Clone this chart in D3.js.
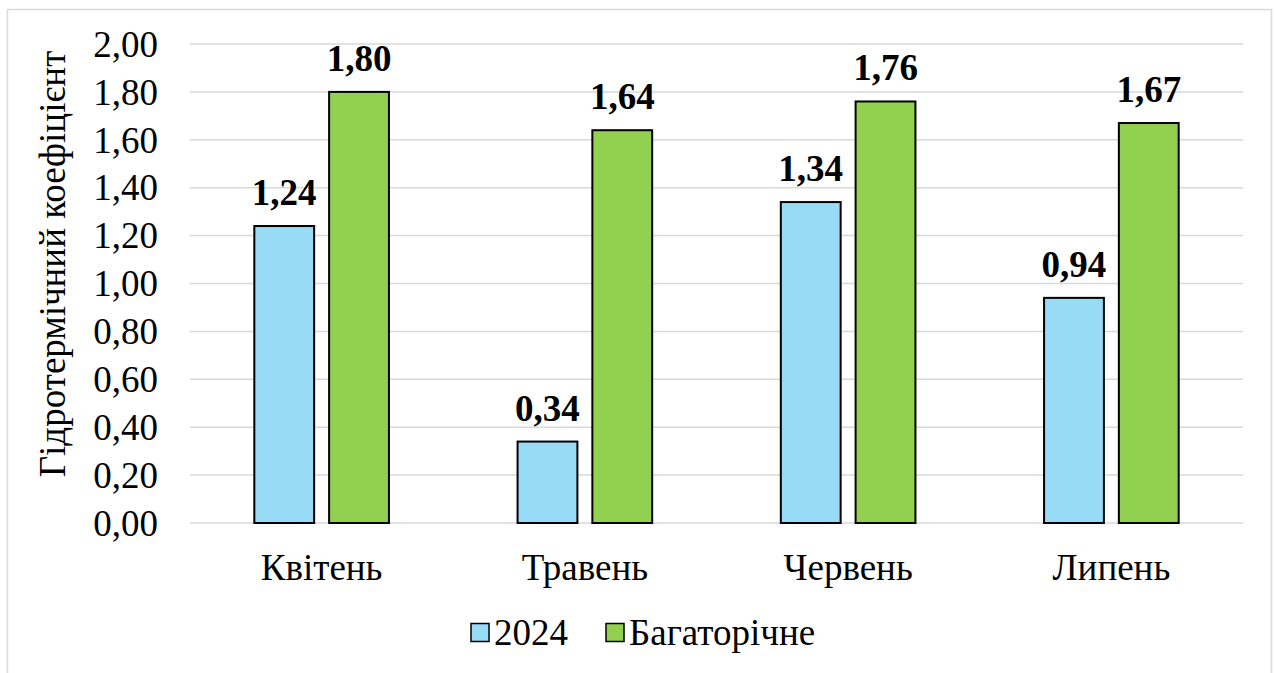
<!DOCTYPE html>
<html>
<head>
<meta charset="utf-8">
<script src="https://cdn.jsdelivr.net/npm/d3@7"></script>
<style>
  body { margin: 0; background: #fff; }
  svg text { font-family: "Liberation Serif", "Times New Roman", serif; }
</style>
</head>
<body>
<svg id="chart" width="1275" height="673"></svg>
<script>
// months and the two series
var months = ["Квітень", "Травень", "Червень", "Липень"];
var seriesNames = ["2024", "Багаторічне"];
var values2024 = [1.24, 0.34, 1.34, 0.94];
var valuesLongTerm = [1.80, 1.64, 1.76, 1.67];
var yTicks = [0, 0.2, 0.4, 0.6, 0.8, 1.0, 1.2, 1.4, 1.6, 1.8, 2.0];
var colors = ["#97dbf7", "#92d050"];
var FONT = "Liberation Serif, Times New Roman, serif";
var FS = 37;

var svg = d3.select("#chart");
var fmt = function(v){ return d3.format(".2f")(v).replace(".", ","); };

// outer frame
svg.append("rect").attr("x", 7.5).attr("y", 9.5).attr("width", 1264).attr("height", 700)
	.attr("fill", "none").attr("stroke", "#d9d9d9").attr("stroke-width", 1.5);

var x = d3.scaleBand().domain(months).range([190, 1243]);
var y = d3.scaleLinear().domain([0, 2]).range([523, 44]);
var inner = d3.scaleBand().domain(seriesNames).range([0, x.bandwidth()]).paddingInner(0.2).paddingOuter(0.86);

// grid lines
svg.append("g").selectAll("line").data(yTicks).enter().append("line")
	.attr("x1", 190).attr("x2", 1243)
	.attr("y1", function(d){ return y(d); }).attr("y2", function(d){ return y(d); })
	.attr("stroke", "#d9d9d9").attr("stroke-width", 1.5);

// y axis labels
var yAxis = d3.axisLeft(y).tickValues(yTicks).tickFormat(fmt).tickSize(0).tickPadding(0);
var gy = svg.append("g").attr("transform", "translate(158,0)").call(yAxis)
	.attr("font-family", FONT).attr("font-size", FS);
gy.select(".domain").remove();
gy.selectAll("text").attr("fill", "#000").attr("dy", "0.33em");

// x axis labels
var xAxis = d3.axisBottom(x).tickSize(0).tickPadding(0);
var gx = svg.append("g").attr("transform", "translate(0,580)").call(xAxis)
	.attr("font-family", FONT).attr("font-size", FS);
gx.select(".domain").remove();
gx.selectAll("text").attr("fill", "#000").attr("dy", 0);

// bars
var series = [values2024, valuesLongTerm];
series.forEach(function(vals, si){
	var g = svg.append("g");
	g.selectAll("rect").data(vals).enter().append("rect")
		.attr("x", function(d, i){ return x(months[i]) + inner(seriesNames[si]); })
		.attr("y", function(d){ return y(d); })
		.attr("width", inner.bandwidth())
		.attr("height", function(d){ return y(0) - y(d); })
		.attr("fill", colors[si]).attr("stroke", "#000").attr("stroke-width", 2);
	g.selectAll("text").data(vals).enter().append("text")
		.attr("x", function(d, i){ return x(months[i]) + inner(seriesNames[si]) + inner.bandwidth() / 2; })
		.attr("y", function(d){ return y(d) - 21; })
		.attr("text-anchor", "middle").attr("font-size", FS).attr("font-weight", "bold")
		.text(fmt);
});

// y axis title
svg.append("text")
	.attr("transform", "translate(65,264) rotate(-90)")
	.attr("text-anchor", "middle").attr("font-size", FS)
	.text("Гідротермічний коефіцієнт");

// legend
var legendX = [471, 606];
seriesNames.forEach(function(name, i){
	svg.append("rect").attr("x", legendX[i]).attr("y", 623.5).attr("width", 18).attr("height", 18)
		.attr("fill", colors[i]).attr("stroke", "#000").attr("stroke-width", 1.5);
	svg.append("text").attr("x", legendX[i] + 23).attr("y", 645)
		.attr("font-size", FS).text(name);
});
</script>
</body>
</html>
